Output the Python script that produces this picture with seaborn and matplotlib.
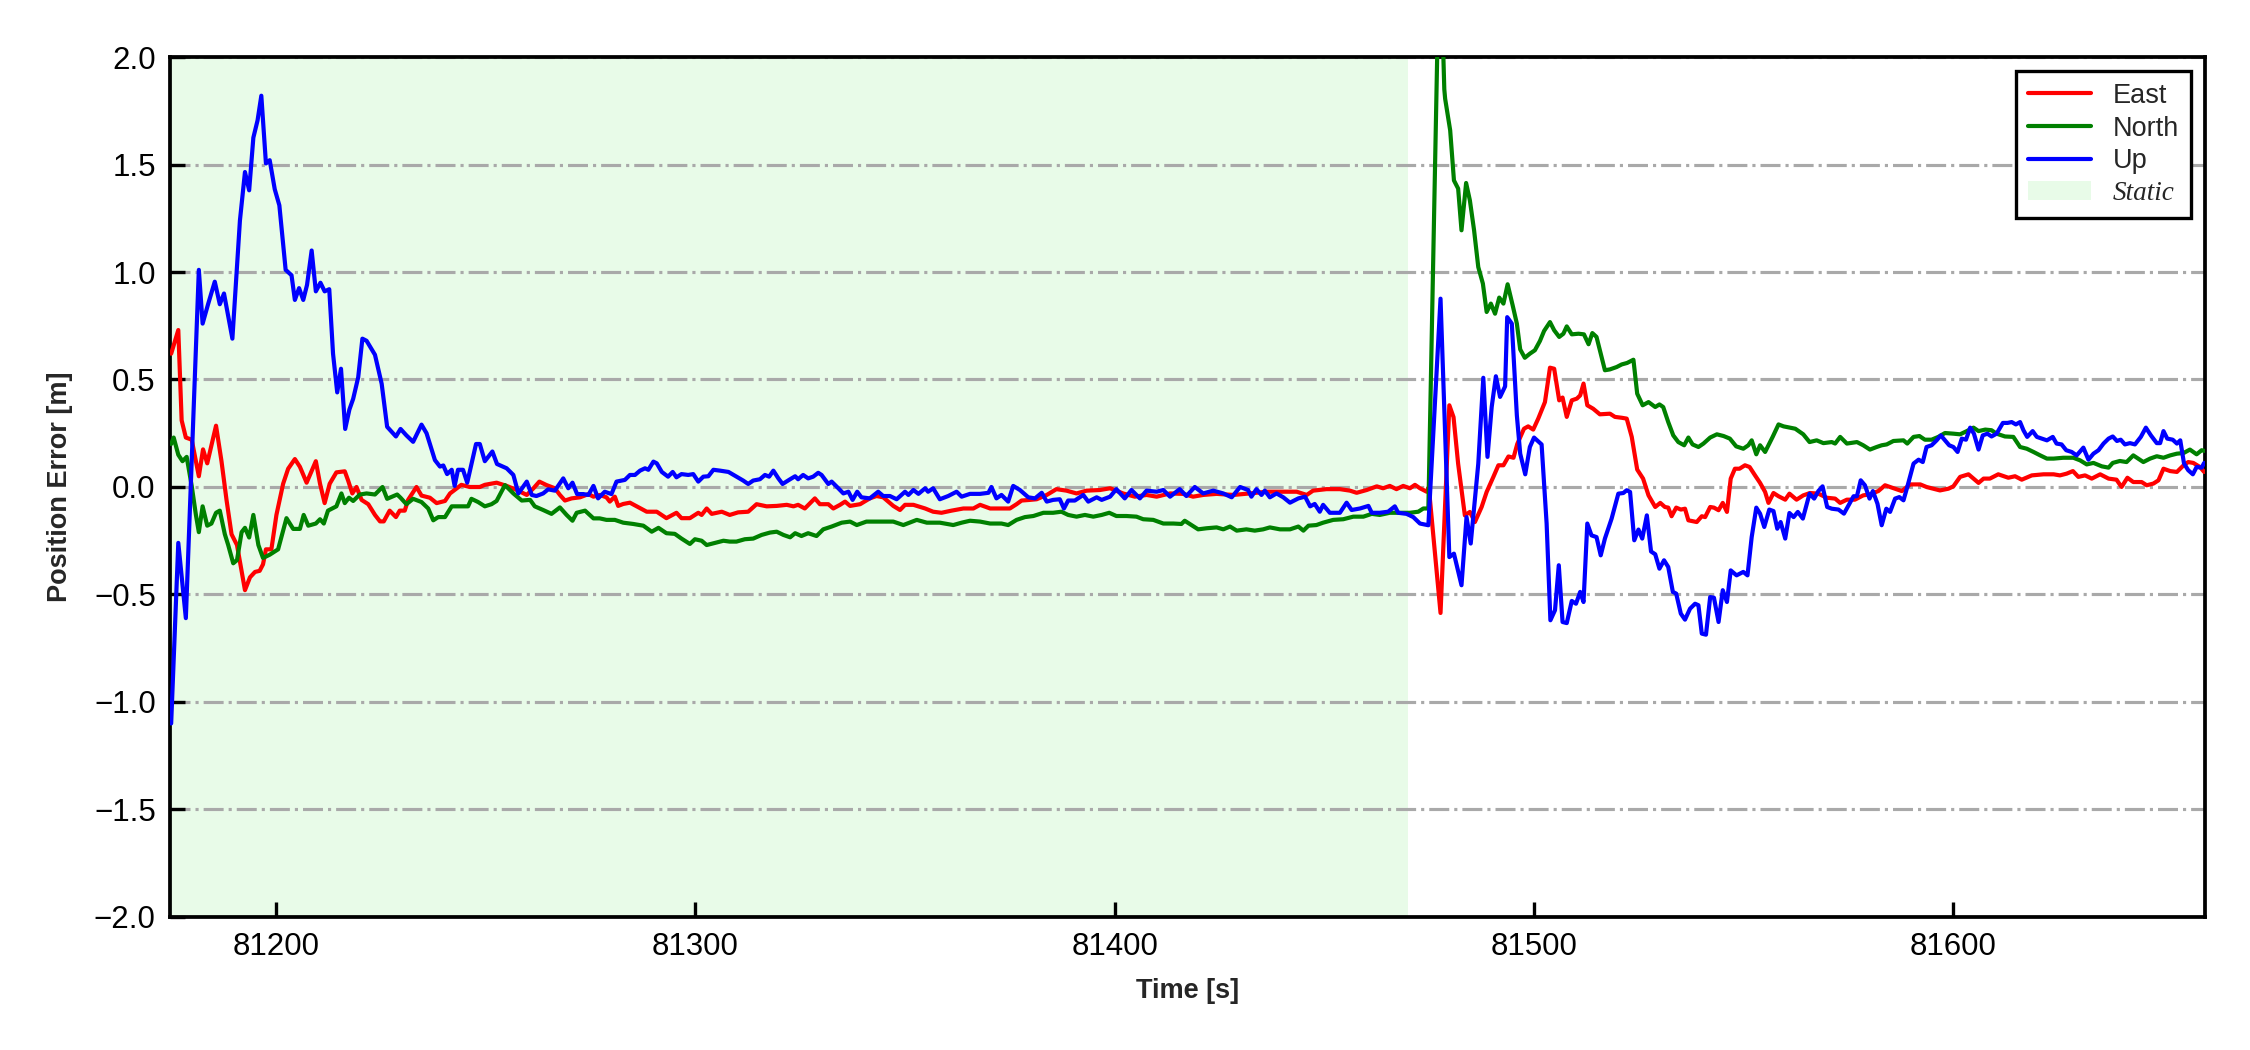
import matplotlib
matplotlib.use("Agg")
import matplotlib.pyplot as plt
from matplotlib.patches import Patch
import seaborn as sns
import pandas as pd

# ---------------- data ----------------
east_t = [81175.0, 81176.7, 81177.5, 81178.5, 81179.9, 81181.6, 81182.6, 81183.6, 81185.7, 81187.0,
          81188.2, 81189.4, 81190.7, 81192.6, 81193.8, 81195.0, 81196.1, 81196.9, 81197.6, 81198.9,
          81200.1, 81201.7, 81202.9, 81204.5, 81205.7, 81207.3, 81209.5, 81210.5, 81211.6, 81212.8,
          81214.4, 81216.4, 81217.2, 81218.2, 81219.2, 81220.4, 81222.0, 81223.6, 81224.8, 81225.7,
          81227.1, 81228.6, 81229.5, 81230.7, 81231.5, 81233.5, 81234.7, 81236.7, 81238.3, 81240.3,
          81241.5, 81244.2, 81246.2, 81248.6, 81249.8, 81252.6, 81255.0, 81257.4, 81259.8, 81261.4,
          81262.8, 81264.5, 81266.5, 81267.7, 81268.9, 81270.5, 81272.5, 81274.5, 81275.7, 81277.2,
          81278.8, 81279.6, 81280.8, 81281.6, 81282.8, 81284.4, 81286.0, 81288.4, 81290.8, 81293.1,
          81295.5, 81296.7, 81298.7, 81300.7, 81301.5, 81302.7, 81303.9, 81306.3, 81308.2, 81310.2,
          81312.6, 81314.6, 81317.0, 81319.4, 81321.8, 81323.4, 81324.5, 81326.1, 81328.5, 81329.7,
          81331.7, 81332.9, 81334.5, 81335.7, 81336.9, 81339.3, 81341.6, 81343.2, 81344.8, 81346.0,
          81347.2, 81348.8, 81350.0, 81352.0, 81354.8, 81356.7, 81358.7, 81361.1, 81363.9, 81366.3,
          81367.9, 81370.3, 81372.2, 81375.0, 81376.6, 81377.8, 81379.8, 81381.4, 81383.8, 81386.1,
          81388.5, 81390.9, 81393.3, 81396.5, 81398.9, 81402.0, 81404.8, 81407.6, 81410.0, 81413.2,
          81416.3, 81418.7, 81421.1, 81424.3, 81428.3, 81432.2, 81436.2, 81440.2, 81443.4, 81445.8,
          81447.3, 81450.5, 81453.7, 81456.1, 81457.7, 81460.1, 81462.5, 81464.0, 81465.6, 81467.2,
          81468.8, 81470.4, 81471.6, 81472.8, 81474.4, 81474.9, 81477.7, 81479.8, 81480.8, 81481.9,
          81483.5, 81484.7, 81485.9, 81487.5, 81488.7, 81490.3, 81491.5, 81492.7, 81493.9, 81495.1,
          81496.0, 81497.6, 81498.6, 81499.8, 81501.0, 81502.6, 81503.8, 81504.8, 81506.0, 81506.8,
          81507.8, 81509.0, 81510.2, 81511.0, 81511.8, 81512.7, 81514.1, 81515.7, 81518.1, 81519.3,
          81520.9, 81522.1, 81523.3, 81524.6, 81526.0, 81527.3, 81528.9, 81530.1, 81531.2, 81532.0,
          81532.8, 81533.9, 81535.0, 81536.0, 81536.8, 81538.8, 81540.0, 81540.8, 81542.0, 81542.9,
          81544.0, 81545.0, 81546.0, 81546.9, 81547.9, 81549.0, 81550.3, 81551.4, 81552.7, 81553.9,
          81555.1, 81555.9, 81557.1, 81558.3, 81559.9, 81560.9, 81562.6, 81564.2, 81565.8, 81567.8,
          81569.8, 81571.8, 81573.0, 81574.6, 81576.5, 81578.5, 81580.1, 81582.1, 81583.7, 81585.3,
          81587.7, 81589.7, 81592.1, 81593.6, 81595.2, 81596.8, 81598.8, 81600.0, 81601.6, 81603.6,
          81604.8, 81606.0, 81607.2, 81608.7, 81610.7, 81613.1, 81614.7, 81616.3, 81618.7, 81621.5,
          81623.9, 81625.4, 81627.0, 81628.5, 81629.8, 81631.4, 81633.0, 81635.0, 81637.0, 81638.9,
          81640.1, 81641.5, 81642.9, 81644.9, 81646.1, 81647.7, 81648.9, 81650.1, 81651.7, 81653.3,
          81654.9, 81656.0, 81657.2, 81658.8, 81659.8]
east_v = [0.62, 0.73, 0.31, 0.23, 0.22, 0.05, 0.175, 0.11, 0.285, 0.12,
          -0.06, -0.22, -0.27, -0.48, -0.42, -0.395, -0.39, -0.36, -0.29, -0.29,
          -0.13, 0.015, 0.085, 0.13, 0.094, 0.02, 0.12, 0.015, -0.075, 0.015,
          0.068, 0.073, 0.03, -0.03, 0.0, -0.06, -0.08, -0.13, -0.16, -0.16,
          -0.11, -0.14, -0.11, -0.11, -0.06, 0.0, -0.04, -0.05, -0.075, -0.065,
          -0.03, 0.01, 0.0, 0.0, 0.01, 0.02, 0.005, -0.014, -0.037, -0.006,
          0.025, 0.009, -0.006, -0.037, -0.063, -0.053, -0.048, -0.033, -0.045, -0.037,
          -0.048, -0.068, -0.045, -0.088, -0.079, -0.073, -0.09, -0.115, -0.115, -0.145,
          -0.12, -0.145, -0.145, -0.12, -0.13, -0.10, -0.125, -0.115, -0.13, -0.118,
          -0.115, -0.08, -0.09, -0.088, -0.083, -0.09, -0.083, -0.10, -0.053, -0.08,
          -0.08, -0.10, -0.083, -0.068, -0.088, -0.08, -0.053, -0.042, -0.048, -0.068,
          -0.088, -0.107, -0.083, -0.083, -0.10, -0.115, -0.12, -0.11, -0.10, -0.10,
          -0.083, -0.10, -0.10, -0.10, -0.08, -0.063, -0.06, -0.057, -0.037, -0.01,
          -0.017, -0.03, -0.017, -0.014, -0.006, -0.03, -0.045, -0.037, -0.045, -0.03,
          -0.032, -0.045, -0.037, -0.032, -0.037, -0.03, -0.022, -0.022, -0.022, -0.037,
          -0.017, -0.01, -0.01, -0.017, -0.027, -0.014, 0.003, -0.006, 0.005, -0.01,
          0.005, -0.006, 0.01, -0.006, -0.022, 0.0, -0.586, 0.38, 0.325, 0.108,
          -0.132, -0.116, -0.163, -0.093, -0.023, 0.047, 0.101, 0.101, 0.142, 0.136,
          0.2, 0.271, 0.282, 0.267, 0.318, 0.395, 0.555, 0.55, 0.403, 0.416,
          0.326, 0.403, 0.411, 0.426, 0.481, 0.38, 0.364, 0.338, 0.341, 0.326,
          0.322, 0.318, 0.233, 0.081, 0.039, -0.039, -0.093, -0.074, -0.093, -0.096,
          -0.136, -0.096, -0.105, -0.101, -0.155, -0.163, -0.136, -0.14, -0.093, -0.096,
          -0.108, -0.074, -0.116, 0.039, 0.085, 0.085, 0.101, 0.093, 0.054, 0.019,
          -0.023, -0.074, -0.028, -0.043, -0.059, -0.031, -0.059, -0.039, -0.028, -0.031,
          -0.05, -0.054, -0.074, -0.059, -0.059, -0.039, -0.034, -0.019, 0.008, -0.003,
          -0.019, 0.012, 0.012, 0.0, -0.008, -0.016, -0.008, 0.003, 0.047, 0.059,
          0.039, 0.019, 0.039, 0.039, 0.059, 0.043, 0.05, 0.034, 0.054, 0.059,
          0.059, 0.054, 0.062, 0.074, 0.047, 0.054, 0.039, 0.059, 0.039, 0.034,
          0.0, 0.043, 0.023, 0.023, 0.008, 0.016, 0.031, 0.085, 0.074, 0.07,
          0.101, 0.116, 0.112, 0.093, 0.07]

north_t = [81175.0, 81175.6, 81176.7, 81177.7, 81178.7, 81179.9, 81180.9, 81181.6, 81182.5, 81183.6,
           81184.6, 81185.7, 81186.6, 81187.8, 81188.6, 81189.8, 81190.7, 81191.8, 81192.6, 81193.6,
           81194.6, 81195.8, 81196.9, 81198.5, 81200.5, 81202.5, 81204.1, 81205.7, 81206.6, 81207.7,
           81209.5, 81210.5, 81211.4, 81212.4, 81214.4, 81215.6, 81216.4, 81217.4, 81218.4, 81220.0,
           81221.6, 81223.6, 81225.4, 81226.5, 81228.9, 81229.7, 81231.1, 81232.7, 81234.7, 81236.3,
           81237.5, 81238.7, 81240.3, 81241.9, 81243.8, 81245.8, 81246.6, 81248.2, 81249.8, 81251.4,
           81252.6, 81254.6, 81256.6, 81258.6, 81260.6, 81261.7, 81263.7, 81265.7, 81267.7, 81269.3,
           81270.7, 81271.7, 81273.7, 81275.7, 81277.2, 81278.8, 81280.8, 81282.8, 81285.2, 81287.6,
           81289.6, 81291.2, 81293.1, 81295.1, 81296.7, 81298.7, 81299.9, 81301.5, 81302.7, 81304.3,
           81306.7, 81308.2, 81309.8, 81311.8, 81313.8, 81315.8, 81317.8, 81319.4, 81321.0, 81322.6,
           81323.8, 81325.3, 81326.9, 81328.9, 81330.5, 81332.5, 81334.9, 81336.9, 81338.5, 81340.8,
           81344.0, 81347.2, 81349.6, 81352.8, 81355.2, 81358.3, 81361.5, 81363.5, 81365.5, 81367.9,
           81370.3, 81373.0, 81374.6, 81376.6, 81378.6, 81380.6, 81383.0, 81385.3, 81387.3, 81388.9,
           81390.9, 81392.9, 81394.9, 81396.9, 81398.7, 81400.4, 81402.8, 81405.2, 81406.8, 81409.2,
           81411.6, 81414.0, 81415.9, 81416.7, 81418.3, 81419.9, 81421.9, 81424.3, 81425.9, 81427.5,
           81429.1, 81431.4, 81433.4, 81435.4, 81437.0, 81439.4, 81441.8, 81443.8, 81445.0, 81446.2,
           81448.1, 81449.7, 81452.1, 81454.5, 81456.9, 81459.3, 81461.3, 81463.2, 81465.6, 81468.0,
           81470.4, 81472.4, 81473.6, 81474.8, 81477.5, 81478.6, 81478.8, 81480.0, 81480.9, 81481.9,
           81482.7, 81483.8, 81484.7, 81485.7, 81486.7, 81487.8, 81488.7, 81489.7, 81490.7, 81491.7,
           81492.7, 81493.7, 81494.9, 81495.9, 81496.7, 81497.8, 81499.0, 81500.2, 81501.4, 81502.4,
           81503.8, 81504.8, 81506.0, 81507.0, 81507.8, 81509.0, 81510.6, 81511.9, 81513.0, 81513.9,
           81514.9, 81515.7, 81516.9, 81518.1, 81519.7, 81520.9, 81522.2, 81523.7, 81524.6, 81525.9,
           81527.3, 81528.9, 81529.9, 81530.8, 81532.0, 81533.2, 81534.4, 81535.8, 81536.8, 81537.8,
           81539.2, 81540.4, 81542.0, 81543.6, 81545.2, 81546.7, 81548.2, 81549.9, 81551.1, 81551.9,
           81553.0, 81553.9, 81555.1, 81556.9, 81558.3, 81559.5, 81561.1, 81562.3, 81564.2, 81565.7,
           81567.4, 81569.0, 81571.0, 81571.8, 81573.0, 81574.6, 81577.0, 81578.5, 81580.1, 81581.7,
           81582.9, 81584.1, 81585.7, 81588.1, 81589.0, 81590.5, 81591.9, 81593.2, 81594.8, 81596.4,
           81598.0, 81600.0, 81601.6, 81603.2, 81604.8, 81606.0, 81607.6, 81609.1, 81610.3, 81612.3,
           81614.3, 81615.9, 81617.5, 81619.1, 81620.7, 81622.3, 81623.9, 81626.2, 81628.6, 81630.2,
           81631.8, 81633.4, 81635.4, 81637.0, 81638.0, 81639.7, 81641.3, 81642.9, 81645.3, 81646.9,
           81648.5, 81650.1, 81651.7, 81653.3, 81654.9, 81656.4, 81658.0, 81659.2, 81659.8]
north_v = [0.20, 0.23, 0.15, 0.12, 0.14, 0.005, -0.13, -0.21, -0.09, -0.18,
           -0.17, -0.12, -0.11, -0.22, -0.27, -0.355, -0.34, -0.21, -0.19, -0.235,
           -0.13, -0.27, -0.33, -0.315, -0.29, -0.145, -0.195, -0.195, -0.13, -0.18,
           -0.17, -0.15, -0.17, -0.11, -0.09, -0.03, -0.075, -0.05, -0.065, -0.035,
           -0.03, -0.035, 0.0, -0.055, -0.035, -0.05, -0.08, -0.055, -0.07, -0.10,
           -0.155, -0.14, -0.14, -0.09, -0.09, -0.09, -0.055, -0.07, -0.09, -0.08,
           -0.065, 0.009, -0.03, -0.063, -0.06, -0.09, -0.107, -0.125, -0.095, -0.13,
           -0.157, -0.12, -0.11, -0.146, -0.146, -0.153, -0.153, -0.166, -0.172, -0.18,
           -0.208, -0.19, -0.215, -0.218, -0.24, -0.265, -0.243, -0.25, -0.27, -0.262,
           -0.25, -0.254, -0.254, -0.243, -0.24, -0.223, -0.212, -0.208, -0.223, -0.234,
           -0.215, -0.228, -0.215, -0.228, -0.197, -0.184, -0.166, -0.161, -0.177, -0.161,
           -0.161, -0.161, -0.177, -0.153, -0.166, -0.166, -0.177, -0.166, -0.157, -0.161,
           -0.17, -0.17, -0.177, -0.153, -0.14, -0.135, -0.12, -0.12, -0.115, -0.13,
           -0.138, -0.13, -0.138, -0.13, -0.12, -0.135, -0.135, -0.138, -0.15, -0.153,
           -0.17, -0.17, -0.172, -0.157, -0.177, -0.197, -0.192, -0.188, -0.197, -0.184,
           -0.203, -0.197, -0.203, -0.197, -0.188, -0.197, -0.197, -0.184, -0.203, -0.18,
           -0.177, -0.166, -0.153, -0.15, -0.138, -0.138, -0.125, -0.13, -0.12, -0.12,
           -0.12, -0.115, -0.10, -0.10, 2.6, 1.85, 1.806, 1.659, 1.426, 1.388,
           1.194, 1.414, 1.333, 1.194, 1.023, 0.946, 0.814, 0.853, 0.806, 0.881,
           0.853, 0.943, 0.845, 0.76, 0.64, 0.601, 0.62, 0.636, 0.679, 0.726,
           0.767, 0.729, 0.698, 0.713, 0.747, 0.71, 0.713, 0.71, 0.664, 0.716,
           0.698, 0.636, 0.543, 0.547, 0.558, 0.57, 0.577, 0.592, 0.434, 0.38,
           0.395, 0.372, 0.384, 0.372, 0.302, 0.24, 0.209, 0.194, 0.23, 0.198,
           0.186, 0.202, 0.23, 0.245, 0.237, 0.225, 0.189, 0.178, 0.194, 0.217,
           0.152, 0.194, 0.163, 0.233, 0.291, 0.282, 0.276, 0.271, 0.245, 0.209,
           0.217, 0.204, 0.209, 0.202, 0.233, 0.202, 0.209, 0.194, 0.174, 0.186,
           0.194, 0.198, 0.214, 0.217, 0.202, 0.233, 0.237, 0.22, 0.22, 0.233,
           0.251, 0.248, 0.245, 0.26, 0.276, 0.26, 0.267, 0.264, 0.248, 0.235,
           0.233, 0.186, 0.178, 0.163, 0.147, 0.132, 0.132, 0.136, 0.136, 0.124,
           0.105, 0.112, 0.096, 0.09, 0.112, 0.121, 0.116, 0.147, 0.116, 0.132,
           0.143, 0.136, 0.147, 0.155, 0.158, 0.174, 0.152, 0.171, 0.168]

up_t = [81175.0, 81176.7, 81178.5, 81181.6, 81182.5, 81183.8, 81185.4, 81186.6, 81187.6, 81189.6,
        81191.4, 81192.6, 81193.6, 81194.6, 81195.6, 81196.5, 81197.6, 81198.5, 81199.7, 81200.8,
        81202.3, 81203.7, 81204.5, 81205.5, 81206.5, 81207.4, 81208.5, 81209.5, 81210.6, 81211.6,
        81212.7, 81213.6, 81214.6, 81215.5, 81216.5, 81217.5, 81218.4, 81219.6, 81220.6, 81221.6,
        81223.6, 81225.2, 81226.5, 81228.6, 81229.7, 81231.1, 81232.7, 81234.7, 81235.9, 81237.9,
        81239.1, 81239.9, 81240.8, 81241.9, 81242.6, 81243.4, 81244.6, 81245.6, 81247.7, 81248.6,
        81249.8, 81251.6, 81252.7, 81255.0, 81256.6, 81257.8, 81259.8, 81261.0, 81262.1, 81263.7,
        81264.9, 81266.5, 81268.5, 81269.7, 81270.7, 81271.8, 81273.3, 81274.5, 81275.7, 81276.8,
        81278.4, 81280.0, 81281.2, 81283.2, 81284.4, 81285.6, 81286.8, 81288.0, 81288.8, 81290.0,
        81290.8, 81292.0, 81293.5, 81294.6, 81295.5, 81296.7, 81298.3, 81299.5, 81300.7, 81301.9,
        81303.1, 81304.3, 81305.9, 81307.9, 81309.8, 81311.4, 81312.6, 81313.8, 81315.4, 81316.6,
        81317.6, 81318.6, 81319.8, 81320.8, 81322.6, 81323.8, 81324.5, 81325.7, 81326.9, 81328.1,
        81329.3, 81330.1, 81331.7, 81332.5, 81334.1, 81335.3, 81336.5, 81337.5, 81338.6, 81339.6,
        81341.6, 81343.6, 81344.8, 81346.4, 81348.0, 81350.0, 81350.8, 81352.0, 81353.2, 81354.8,
        81355.5, 81356.7, 81358.3, 81360.3, 81362.3, 81363.5, 81365.5, 81367.9, 81369.9, 81370.6,
        81371.8, 81373.0, 81374.6, 81375.8, 81377.4, 81379.4, 81381.0, 81382.6, 81383.8, 81385.3,
        81386.9, 81387.9, 81388.9, 81390.5, 81392.5, 81393.7, 81395.7, 81396.9, 81398.9, 81400.4,
        81402.4, 81404.0, 81406.0, 81407.6, 81410.0, 81411.6, 81413.2, 81415.5, 81417.1, 81419.1,
        81421.1, 81423.5, 81425.9, 81427.9, 81429.9, 81431.8, 81432.6, 81433.8, 81435.0, 81435.8,
        81437.0, 81438.6, 81440.2, 81441.8, 81443.8, 81445.4, 81446.6, 81447.7, 81448.9, 81449.7,
        81451.3, 81453.7, 81455.3, 81456.5, 81458.5, 81460.5, 81461.3, 81463.2, 81465.2, 81466.8,
        81467.6, 81469.6, 81471.2, 81472.8, 81474.8, 81477.7, 81479.8, 81480.9, 81482.7, 81483.9,
        81484.9, 81486.7, 81487.9, 81488.9, 81489.9, 81490.9, 81491.9, 81493.1, 81493.6, 81494.7,
        81495.9, 81496.7, 81497.9, 81499.0, 81500.0, 81501.8, 81503.0, 81503.9, 81505.0, 81505.9,
        81506.8, 81507.8, 81509.0, 81510.0, 81511.0, 81511.8, 81512.7, 81513.7, 81514.9, 81515.9,
        81516.9, 81518.5, 81520.1, 81521.3, 81522.1, 81522.9, 81523.9, 81524.9, 81525.8, 81526.9,
        81527.9, 81528.9, 81529.9, 81531.0, 81532.0, 81533.1, 81533.9, 81535.0, 81536.0, 81537.2,
        81538.4, 81539.2, 81540.0, 81541.0, 81542.0, 81542.9, 81544.0, 81545.0, 81546.0, 81546.9,
        81548.3, 81549.9, 81550.9, 81551.9, 81553.0, 81553.9, 81554.9, 81556.1, 81557.1, 81558.0,
        81558.8, 81559.9, 81560.9, 81561.9, 81562.9, 81564.1, 81565.7, 81566.8, 81567.8, 81568.8,
        81569.9, 81571.0, 81572.6, 81573.9, 81575.2, 81576.2, 81577.0, 81577.9, 81578.9, 81580.0,
        81580.8, 81581.9, 81582.9, 81584.0, 81584.9, 81586.1, 81587.1, 81588.1, 81589.0, 81590.5,
        81591.7, 81592.7, 81593.6, 81594.8, 81596.0, 81597.0, 81598.0, 81599.0, 81600.0, 81601.0,
        81602.0, 81603.0, 81604.0, 81604.9, 81606.0, 81607.0, 81608.1, 81609.1, 81610.3, 81611.8,
        81612.9, 81613.9, 81614.9, 81615.9, 81616.7, 81617.6, 81618.9, 81619.9, 81621.1, 81622.3,
        81623.7, 81624.6, 81625.8, 81626.9, 81628.2, 81629.4, 81631.0, 81632.2, 81633.4, 81634.6,
        81635.8, 81637.0, 81638.0, 81639.0, 81639.9, 81640.9, 81642.1, 81643.3, 81644.7, 81645.9,
        81647.1, 81648.5, 81649.3, 81650.1, 81651.0, 81652.3, 81653.3, 81654.1, 81655.0, 81656.0,
        81657.1, 81658.0, 81659.2, 81659.8]
up_v = [-1.10, -0.26, -0.61, 1.01, 0.76, 0.85, 0.955, 0.85, 0.90, 0.69,
        1.24, 1.465, 1.38, 1.625, 1.705, 1.82, 1.505, 1.52, 1.385, 1.31,
        1.01, 0.985, 0.87, 0.925, 0.87, 0.94, 1.10, 0.91, 0.95, 0.91,
        0.92, 0.62, 0.44, 0.55, 0.27, 0.36, 0.41, 0.51, 0.69, 0.68,
        0.615, 0.48, 0.28, 0.235, 0.27, 0.24, 0.21, 0.29, 0.25, 0.125,
        0.095, 0.10, 0.06, 0.08, 0.005, 0.08, 0.08, 0.02, 0.20, 0.20,
        0.12, 0.165, 0.107, 0.087, 0.056, -0.03, 0.025, -0.037, -0.042, -0.03,
        -0.011, -0.017, 0.04, -0.006, 0.02, -0.033, -0.033, -0.037, 0.005, -0.053,
        -0.022, -0.033, 0.025, 0.033, 0.056, 0.056, 0.076, 0.087, 0.08, 0.118,
        0.11, 0.07, 0.048, 0.07, 0.045, 0.06, 0.056, 0.06, 0.025, 0.048,
        0.05, 0.08, 0.076, 0.07, 0.048, 0.03, 0.014, 0.03, 0.036, 0.056,
        0.048, 0.076, 0.04, 0.014, 0.036, 0.05, 0.036, 0.056, 0.04, 0.048,
        0.066, 0.056, 0.014, 0.025, -0.006, -0.03, -0.022, -0.06, -0.022, -0.048,
        -0.053, -0.022, -0.042, -0.042, -0.057, -0.022, -0.037, -0.014, -0.032, -0.006,
        -0.022, -0.006, -0.057, -0.042, -0.022, -0.045, -0.032, -0.032, -0.027, 0.0,
        -0.053, -0.037, -0.068, 0.005, -0.014, -0.048, -0.053, -0.027, -0.068, -0.06,
        -0.057, -0.10, -0.063, -0.063, -0.037, -0.068, -0.048, -0.06, -0.045, -0.01,
        -0.053, -0.014, -0.053, -0.017, -0.022, -0.014, -0.045, -0.01, -0.042, 0.0,
        -0.03, -0.017, -0.03, -0.048, 0.0, -0.014, -0.045, -0.01, -0.037, -0.017,
        -0.048, -0.03, -0.048, -0.073, -0.053, -0.045, -0.09, -0.079, -0.115, -0.083,
        -0.12, -0.12, -0.073, -0.107, -0.10, -0.088, -0.12, -0.12, -0.115, -0.09,
        -0.12, -0.125, -0.14, -0.17, -0.178, 0.876, -0.326, -0.31, -0.457, -0.14,
        -0.263, 0.108, 0.508, 0.14, 0.372, 0.515, 0.419, 0.468, 0.79, 0.76,
        0.333, 0.155, 0.059, 0.186, 0.23, 0.198, -0.17, -0.62, -0.573, -0.364,
        -0.628, -0.633, -0.53, -0.543, -0.488, -0.535, -0.17, -0.225, -0.233, -0.318,
        -0.24, -0.147, -0.031, -0.028, -0.015, -0.023, -0.248, -0.198, -0.24, -0.132,
        -0.30, -0.313, -0.38, -0.341, -0.372, -0.488, -0.496, -0.589, -0.617, -0.566,
        -0.543, -0.55, -0.682, -0.687, -0.512, -0.515, -0.628, -0.48, -0.535, -0.388,
        -0.411, -0.395, -0.411, -0.233, -0.096, -0.124, -0.186, -0.105, -0.112, -0.194,
        -0.163, -0.24, -0.121, -0.14, -0.116, -0.147, -0.031, -0.054, -0.019, 0.003,
        -0.093, -0.101, -0.105, -0.124, -0.078, -0.043, -0.043, 0.031, 0.008, -0.054,
        -0.019, -0.078, -0.178, -0.101, -0.116, -0.054, -0.047, -0.062, 0.0, 0.109,
        0.127, 0.116, 0.186, 0.194, 0.217, 0.24, 0.217, 0.194, 0.186, 0.163,
        0.225, 0.22, 0.276, 0.248, 0.174, 0.24, 0.248, 0.235, 0.248, 0.298,
        0.298, 0.302, 0.291, 0.302, 0.264, 0.233, 0.26, 0.233, 0.225, 0.217,
        0.233, 0.202, 0.198, 0.171, 0.163, 0.147, 0.183, 0.127, 0.155, 0.171,
        0.202, 0.225, 0.235, 0.214, 0.22, 0.198, 0.204, 0.198, 0.233, 0.276,
        0.24, 0.204, 0.204, 0.26, 0.225, 0.22, 0.202, 0.217, 0.109, 0.078,
        0.059, 0.093, 0.09, 0.112]

components = ["East", "North", "Up"]
colors = ["red", "green", "blue"]
static_start, static_end = 81174.8, 81470.0
x_range = (81174.8, 81660.0)
y_range = (-2.0, 2.0)
y_ticks = [-2.0, -1.5, -1.0, -0.5, 0.0, 0.5, 1.0, 1.5, 2.0]
x_ticks = [81200, 81300, 81400, 81500, 81600]

# ---------------- build table ----------------
frames = []
for name, t, v in zip(components, [east_t, north_t, up_t], [east_v, north_v, up_v]):
    frames.append(pd.DataFrame({"Time": t, "Error": v, "Component": name}))
df = pd.concat(frames, ignore_index=True)

# ---------------- style ----------------
sns.set_style("ticks")
plt.rcParams["font.family"] = ["Liberation Sans", "DejaVu Sans"]
plt.rcParams["axes.unicode_minus"] = True

fig = plt.figure(figsize=(7.5, 3.5), dpi=300)
ax = fig.add_axes([0.0757, 0.1267, 0.9043, 0.819])

ax.axvspan(static_start, static_end, color="lightgreen", alpha=0.2, lw=0, zorder=0)

sns.lineplot(data=df, x="Time", y="Error", hue="Component", hue_order=components,
             palette=dict(zip(components, colors)), estimator=None, errorbar=None,
             linewidth=1.0, ax=ax, legend=False, zorder=3)

ax.set_xlim(*x_range)
ax.set_ylim(*y_range)
ax.set_yticks(y_ticks)
ax.set_xticks(x_ticks)
ax.ticklabel_format(axis="x", useOffset=False, style="plain")

ax.yaxis.grid(True, linestyle="-.", color="#a9a9a9", linewidth=0.75)
ax.xaxis.grid(False)
ax.set_axisbelow(True)

ax.tick_params(axis="both", direction="in", length=3.5, width=0.8, labelsize=7.5,
               top=False, right=False, colors="black", pad=3.5)
for sp in ax.spines.values():
    sp.set_visible(True)
    sp.set_color("black")
    sp.set_linewidth(0.9)

ax.set_xlabel("Time [s]", fontsize=6.5, fontweight="bold", labelpad=4)
ax.set_ylabel("Position Error [m]", fontsize=6.5, fontweight="bold", labelpad=5)

handles = [plt.Line2D([], [], color=c, lw=1.0) for c in colors]
handles.append(Patch(facecolor="lightgreen", alpha=0.2, edgecolor="none"))
leg = ax.legend(handles, components + ["Static"], loc="upper right", fontsize=6.5,
                frameon=True, fancybox=False, framealpha=1.0, edgecolor="black",
                labelspacing=0.25, handlelength=2.35, handletextpad=0.8,
                borderpad=0.45, borderaxespad=0.5)
leg.get_frame().set_linewidth(0.8)
st = leg.get_texts()[3]
st.set_fontfamily(["Liberation Serif", "DejaVu Serif"])
st.set_fontstyle("italic")

fig.savefig("out.png", dpi=300)
